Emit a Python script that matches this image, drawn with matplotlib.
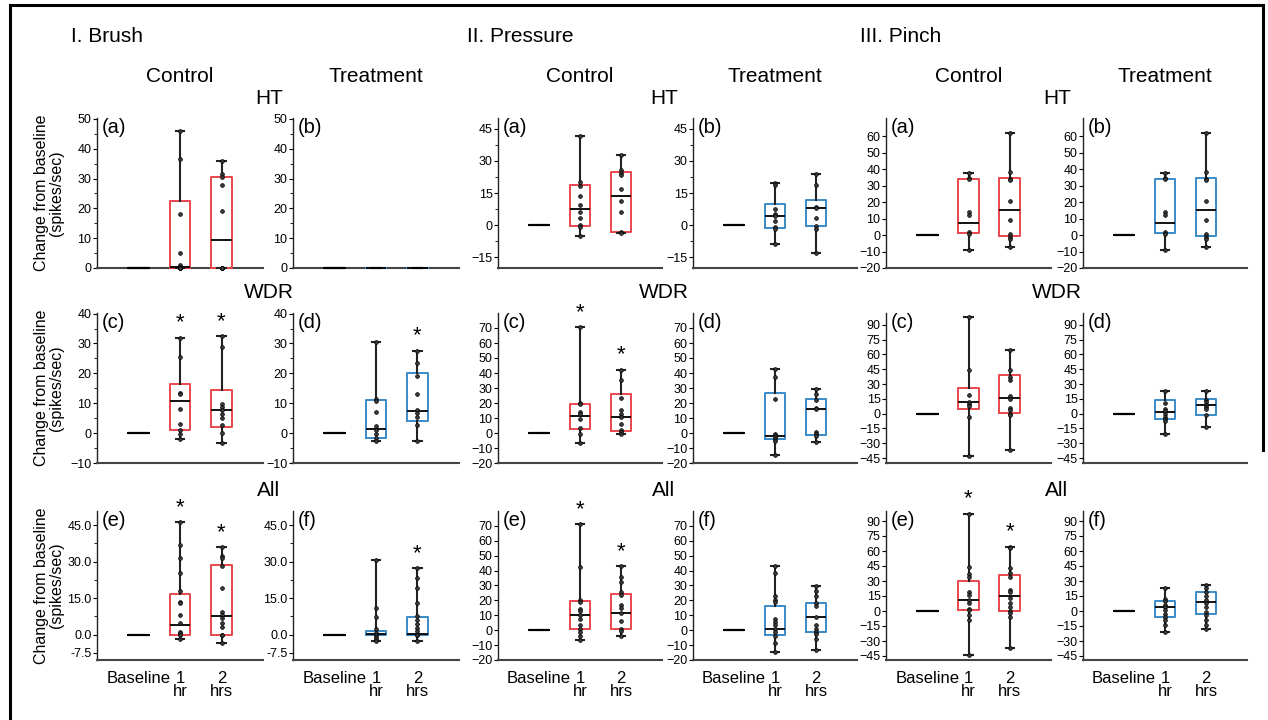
import matplotlib
matplotlib.use('agg')
import matplotlib.pyplot as plt
from matplotlib.lines import Line2D

plt.rcParams['font.family'] = ['Liberation Sans', 'DejaVu Sans']

W, H = 1268, 720

TIME_LABELS = ["Baseline", "1\nhr", "2\nhrs"]
GROUPS = ["I. Brush", "II. Pressure", "III. Pinch"]
CONDITIONS = ["Control", "Treatment"]
ROWS = ["HT", "WDR", "All"]
PANEL_TAGS = [["(a)", "(b)"], ["(c)", "(d)"], ["(e)", "(f)"]]

BASELINE_BOX = [0, 0, 0, 0, 0]

# box stats: [whislo, q1, med, q3, whishi] for 1 hr and 2 hrs
BRUSH_HT_CTRL_BOX = [[0, 0, 0.5, 22.5, 46], [0, 0, 9.5, 30.5, 36]]
BRUSH_HT_CTRL_PTS = [[46, 36.5, 18, 5, 1, 0.3, 0, 0, 0], [36, 31.5, 30.5, 28, 19, 0, 0, 0, 0]]
BRUSH_HT_TRT_BOX = [[0, 0, 0, 0, 0], [0, 0, 0, 0, 0]]
BRUSH_HT_TRT_PTS = [[], []]
BRUSH_WDR_CTRL_BOX = [[-2, 0.9, 10.6, 16.5, 32], [-3.3, 2.2, 7.6, 14.4, 32.4]]
BRUSH_WDR_CTRL_PTS = [[32, 25.4, 13.4, 13.1, 8.2, 3, 1.1, -0.4, -2],
                      [32.4, 28.7, 9.6, 8.9, 7.6, 6.4, 5.2, 2.8, 0.1, -3.3]]
BRUSH_WDR_TRT_BOX = [[-2.5, -1.5, 1.3, 11.0, 30.6], [-2.5, 4.1, 7.4, 20.2, 27.6]]
BRUSH_WDR_TRT_PTS = [[30.6, 11.4, 10.9, 7.2, 2.4, 1.1, -0.4, -1.5, -2.5],
                     [27.6, 23.5, 19.2, 13.1, 7.6, 6.6, 5.5, 2.8, -2.5]]
BRUSH_ALL_CTRL_BOX = [[-1.9, 0, 3.8, 16.7, 46.2], [-3.4, 0, 7.6, 28.5, 36]]
BRUSH_ALL_CTRL_PTS = [[46.2, 36.7, 31.7, 25.3, 17.8, 13.3, 12.9, 8.2, 4.9, 1.1, 0.5, 0, -1.9],
                      [36, 32.2, 31.4, 28.3, 19.3, 9.5, 8.2, 6.8, 4.9, 3.1, 0, 0, -3.4]]
BRUSH_ALL_TRT_BOX = [[-2.6, 0, 0.2, 1.6, 30.6], [-2.7, 0, 0.1, 7.3, 27.3]]
BRUSH_ALL_TRT_PTS = [[30.6, 11.1, 7.2, 2.2, 0.7, 0, -1.1, -1.9, -2.6],
                     [27.3, 23.4, 19.2, 12.9, 7.5, 6, 4.5, 2.9, 1.6, 0, 0, -2.7]]

PRESSURE_HT_CTRL_BOX = [[-5, -0.5, 7.7, 18.8, 41.5], [-3.8, -3.4, 13.8, 24.6, 32.6]]
PRESSURE_HT_CTRL_PTS = [[41.5, 20.1, 18.5, 13.5, 9.6, 6.3, 3.3, 0, -0.9, -5],
                        [32.6, 25.7, 24.3, 23.5, 16.8, 11.4, 6, -3.4, -3.8]]
PRESSURE_HT_TRT_BOX = [[-8.8, -1.3, 4.4, 10, 19.9], [-13, -0.5, 8.2, 11.6, 23.8]]
PRESSURE_HT_TRT_PTS = [[19.9, 18.8, 7.4, 5, 4.1, 1.9, -0.8, -1.7, -8.8],
                       [23.8, 18.7, 8.6, 8.2, 3.3, -0.6, -2, -13]]
PRESSURE_WDR_CTRL_BOX = [[-6.5, 2.5, 11.3, 19.6, 70.4], [-0.5, 1.4, 10.8, 26.1, 42.3]]
PRESSURE_WDR_CTRL_PTS = [[70.4, 20, 19.1, 14, 13, 9.2, 3.4, -0.5, -6.5],
                         [42.3, 35.6, 23.4, 15.1, 13, 10.4, 5.9, 2, 0.9, -0.5]]
PRESSURE_WDR_TRT_BOX = [[-14.4, -3.8, -2.3, 26.6, 42.8], [-5.9, -1.6, 15.8, 23, 29.3]]
PRESSURE_WDR_TRT_PTS = [[42.8, 37.6, 23, -0.5, -1.6, -2.7, -3.8, -5, -14.4],
                        [29.3, 26.1, 22.3, 16.7, 15.8, 0.9, -0.9, -2.3, -5.9]]
PRESSURE_ALL_CTRL_BOX = [[-6.3, 0.5, 10, 19.5, 71.2], [-3.6, 0.9, 11.8, 24.5, 42.8]]
PRESSURE_ALL_CTRL_PTS = [[71.2, 42.4, 20.4, 19, 14.1, 12.9, 10, 7.3, 3.6, 0.5, -1.4, -3.6, -6.3],
                         [42.8, 35.8, 32.6, 25.4, 23.6, 17, 15.2, 11.8, 5.9, 0.9, -0.7, -3.6]]
PRESSURE_ALL_TRT_BOX = [[-14.3, -2.9, 0.9, 16.3, 43.3], [-13.1, -0.9, 8.6, 18.4, 29.7]]
PRESSURE_ALL_TRT_PTS = [[43.3, 38.1, 23.1, 20.2, 19, 7.7, 5.4, 3.2, 0.5, -1.4, -3.6, -8.6, -14.3],
                        [29.7, 26.5, 23.1, 18.1, 16.3, 8.8, 3.2, 0.5, -1.4, -2.3, -5.9, -13.1]]

PINCH_HT_CTRL_BOX = [[-9, 1.2, 7.6, 33.9, 37.8], [-7.1, -0.8, 14.9, 34.9, 62.2]]
PINCH_HT_CTRL_PTS = [[37.8, 34.9, 33.9, 13.7, 12.4, 1.8, 0.8, -9],
                     [62.2, 38, 33.9, 33.1, 20.6, 9, 0.4, -1.2, -2.7, -7.1]]
PINCH_HT_TRT_BOX = [[-9, 1.2, 7.6, 33.9, 37.8], [-7.1, -0.8, 14.9, 34.9, 62.2]]
PINCH_HT_TRT_PTS = [[37.8, 34.9, 33.9, 13.7, 12.4, 1.8, 0.8, -9],
                    [62.2, 38, 33.9, 33.1, 20.6, 9, 0.4, -1.2, -2.7, -7.1]]
PINCH_WDR_CTRL_BOX = [[-43.4, 5.1, 11.5, 25.8, 97.7], [-37, 0.3, 15.6, 38.7, 64.8]]
PINCH_WDR_CTRL_PTS = [[97.7, 44.4, 19.3, 11.5, 9.5, 7.5, -3.1, -43.4],
                      [64.8, 43.8, 37, 33.9, 17.6, 14.9, 5.4, 3.4, 0, -1.7, -37]]
PINCH_WDR_TRT_BOX = [[-20.4, -5.4, 1.4, 13.6, 23.1], [-13.9, -1.4, 9.2, 15.3, 23.1]]
PINCH_WDR_TRT_PTS = [[23.1, 10.9, 4.7, 3.1, 0, -3.4, -5.4, -7.8, -20.4],
                     [23.1, 13.6, 11.5, 9.2, 6.8, 4.7, -1.4, -13.9]]
PINCH_ALL_CTRL_BOX = [[-43.6, 1.2, 11, 30, 97.2], [-36.8, 0.2, 15.4, 36.1, 64.3]]
PINCH_ALL_CTRL_PTS = [[97.2, 43.9, 37.1, 34.1, 19.2, 15.8, 11, 8.3, 2.5, 0.8, -4.2, -9, -43.6],
                      [64.3, 62.6, 43.2, 37.8, 34.4, 21.5, 19.2, 12.7, 8.3, 4.2, 0.2, -1.9, -6.3, -36.8]]
PINCH_ALL_TRT_BOX = [[-20.5, -5.9, 3.6, 9.7, 22.6], [-18.1, -2.9, 9.3, 19.5, 25.9]]
PINCH_ALL_TRT_PTS = [[22.6, 12.4, 9.7, 6.3, 3.6, 0.8, -3.2, -5.9, -8.6, -13.7, -20.5],
                     [25.9, 22.6, 19.2, 15.1, 11, 7.6, 4.2, -1.2, -3.9, -8.6, -13.7, -18.1]]

# significance stars (1 hr, 2 hrs)
NO_STAR = [False, False]
BRUSH_STARS = [[NO_STAR, NO_STAR], [[True, True], [False, True]], [[True, True], [False, True]]]
PRESSURE_STARS = [[NO_STAR, NO_STAR], [[True, True], NO_STAR], [[True, True], NO_STAR]]
PINCH_STARS = [[NO_STAR, NO_STAR], [NO_STAR, NO_STAR], [[True, True], NO_STAR]]

# y axes per row
BRUSH_YLIM = [(0, 50.3), (-10, 40.2), (-10.4, 50.8)]
BRUSH_YTICKS = [[0, 10, 20, 30, 40, 50], [-10, 0, 10, 20, 30, 40], [-7.5, 0, 15, 30, 45]]
BRUSH_YMINOR = [[5, 15, 25, 35, 45], [-5, 5, 15, 25, 35], [7.5, 22.5, 37.5]]
PRESSURE_YLIM = [(-20, 50), (-20, 80), (-20, 80)]
PRESSURE_YTICKS = [[-15, 0, 15, 30, 45], list(range(-20, 71, 10)), list(range(-20, 71, 10))]
PRESSURE_YMINOR = [[-7.5, 7.5, 22.5, 37.5], [], []]
PINCH_YLIM = [(-20, 71), (-50, 102), (-49, 100)]
PINCH_YTICKS = [list(range(-20, 61, 10)), list(range(-45, 91, 15)), list(range(-45, 91, 15))]
PINCH_YMINOR = [[], [], []]

BOXES = [
    [[BRUSH_HT_CTRL_BOX, BRUSH_HT_TRT_BOX], [BRUSH_WDR_CTRL_BOX, BRUSH_WDR_TRT_BOX],
     [BRUSH_ALL_CTRL_BOX, BRUSH_ALL_TRT_BOX]],
    [[PRESSURE_HT_CTRL_BOX, PRESSURE_HT_TRT_BOX], [PRESSURE_WDR_CTRL_BOX, PRESSURE_WDR_TRT_BOX],
     [PRESSURE_ALL_CTRL_BOX, PRESSURE_ALL_TRT_BOX]],
    [[PINCH_HT_CTRL_BOX, PINCH_HT_TRT_BOX], [PINCH_WDR_CTRL_BOX, PINCH_WDR_TRT_BOX],
     [PINCH_ALL_CTRL_BOX, PINCH_ALL_TRT_BOX]],
]
POINTS = [
    [[BRUSH_HT_CTRL_PTS, BRUSH_HT_TRT_PTS], [BRUSH_WDR_CTRL_PTS, BRUSH_WDR_TRT_PTS],
     [BRUSH_ALL_CTRL_PTS, BRUSH_ALL_TRT_PTS]],
    [[PRESSURE_HT_CTRL_PTS, PRESSURE_HT_TRT_PTS], [PRESSURE_WDR_CTRL_PTS, PRESSURE_WDR_TRT_PTS],
     [PRESSURE_ALL_CTRL_PTS, PRESSURE_ALL_TRT_PTS]],
    [[PINCH_HT_CTRL_PTS, PINCH_HT_TRT_PTS], [PINCH_WDR_CTRL_PTS, PINCH_WDR_TRT_PTS],
     [PINCH_ALL_CTRL_PTS, PINCH_ALL_TRT_PTS]],
]
STARS = [BRUSH_STARS, PRESSURE_STARS, PINCH_STARS]
YLIMS = [BRUSH_YLIM, PRESSURE_YLIM, PINCH_YLIM]
YTICKS = [BRUSH_YTICKS, PRESSURE_YTICKS, PINCH_YTICKS]
YMINOR = [BRUSH_YMINOR, PRESSURE_YMINOR, PINCH_YMINOR]

# layout in pixels
COL_X = [[(97, 263), (293, 459)], [(498, 662), (693, 857)], [(886, 1051), (1083, 1247)]]
ROW_Y = [(118, 268), (313, 463), (511, 660)]
GROUP_TITLE_X = [71, 467, 860]
ROW_TITLE_X = [269, 664, 1057]
ROW_TITLE_Y = [99, 292, 490]

COLORS = ["#e8474c", "#3a8ac8"]
WHISKER = "#222222"


def stats_of(b):
    return dict(whislo=b[0], q1=b[1], med=b[2], q3=b[3], whishi=b[4], fliers=[])


def draw_panel(ax, boxes, points, stars, color):
    base = ax.bxp([stats_of(BASELINE_BOX)], positions=[1], widths=0.5, showfliers=False,
                  boxprops=dict(color="black", lw=1.2), medianprops=dict(color="black", lw=1.6),
                  whiskerprops=dict(color="black"), capprops=dict(color="black", lw=0),
                  manage_ticks=False)
    res = ax.bxp([stats_of(b) for b in boxes], positions=[2, 3], widths=0.5, showfliers=False,
                 boxprops=dict(color=color, lw=1.4), medianprops=dict(color="black", lw=1.3),
                 whiskerprops=dict(color=WHISKER, lw=1.5), capprops=dict(color=WHISKER, lw=1.5),
                 capwidths=0.2, manage_ticks=False)
    for d in (base, res):
        for artists in d.values():
            for a in artists:
                a.set_clip_on(False)
                a.set_zorder(3)
    for pos, pts, star, b in zip([2, 3], points, stars, boxes):
        if pts:
            ax.plot([pos] * len(pts), pts, linestyle="none", marker="o", markersize=2.7,
                    markerfacecolor="#3a3a3a", markeredgecolor="black", markeredgewidth=0.5,
                    clip_on=False, zorder=4)
        if star:
            ax.annotate("*", xy=(pos, b[4]), xytext=(0, 3), textcoords="offset points",
                        ha="center", va="bottom", fontsize=16)


fig = plt.figure(figsize=(W / 100, H / 100), dpi=100)

for g in range(3):
    fig.text(GROUP_TITLE_X[g] / W, 1 - 36 / H, GROUPS[g], fontsize=15, ha="left", va="center")
    for r in range(3):
        fig.text(ROW_TITLE_X[g] / W, 1 - ROW_TITLE_Y[r] / H, ROWS[r], fontsize=15,
                 ha="center", va="center")
        for c in range(2):
            x0, x1 = COL_X[g][c]
            y0, y1 = ROW_Y[r]
            ax = fig.add_axes([x0 / W, 1 - y1 / H, (x1 - x0) / W, (y1 - y0) / H])
            draw_panel(ax, BOXES[g][r][c], POINTS[g][r][c], STARS[g][r][c], COLORS[c])
            ax.set_xlim(0.0, 4.0)
            ax.set_ylim(*YLIMS[g][r])
            ax.set_yticks(YTICKS[g][r])
            if g == 0 and r == 2:
                ax.set_yticklabels(["%.1f" % t for t in YTICKS[g][r]])
            ax.set_yticks(YMINOR[g][r], minor=True)
            ax.tick_params(axis="y", which="major", direction="out", length=3, width=0.8,
                           labelsize=9, pad=1)
            ax.tick_params(axis="y", which="minor", direction="out", length=2, width=0.6)
            ax.set_xticks([1, 2, 3])
            if r == 2:
                ax.set_xticklabels(TIME_LABELS, fontsize=12, linespacing=0.85)
            else:
                ax.set_xticklabels([])
            ax.tick_params(axis="x", length=0, pad=8)
            for s in ["top", "right"]:
                ax.spines[s].set_visible(False)
            ax.spines["left"].set_color("#222222")
            ax.spines["left"].set_linewidth(1.0)
            ax.spines["bottom"].set_color("#444444")
            ax.spines["bottom"].set_linewidth(1.5)
            ax.text(0.03, 1.0, PANEL_TAGS[r][c], transform=ax.transAxes, fontsize=14.5,
                    ha="left", va="top")
            if r == 0:
                fig.text((x0 + x1) / 2 / W, 1 - 77 / H, CONDITIONS[c], fontsize=15,
                         ha="center", va="center")
            if g == 0 and c == 0:
                fig.text(49 / W, 1 - (y0 + y1) / 2 / H, "Change from baseline\n(spikes/sec)",
                         fontsize=11.5, rotation=90, ha="center", va="center",
                         multialignment="center", linespacing=1.0)

# frame lines of the figure
fig.add_artist(Line2D([10 / W, 10 / W], [0, 1 - 5 / H], color="black", lw=2.2))
fig.add_artist(Line2D([10 / W, 1263 / W], [1 - 5 / H, 1 - 5 / H], color="black", lw=2.2))
fig.add_artist(Line2D([1263 / W, 1263 / W], [1 - 5 / H, 1 - 450 / H], color="black", lw=2.2))

fig.savefig("out.png", dpi=100)
